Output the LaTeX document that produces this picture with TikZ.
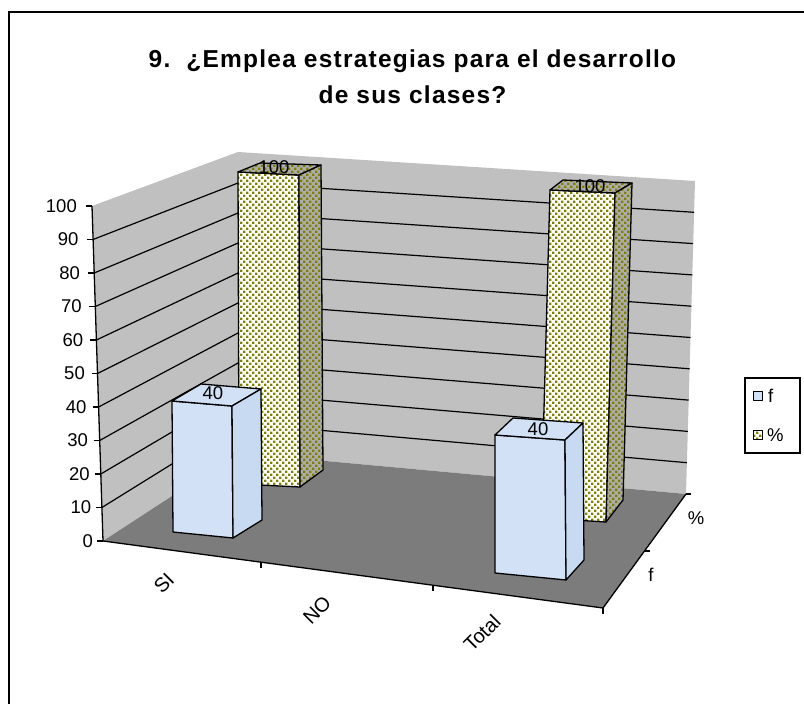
\documentclass[tikz,border=0pt]{standalone}
\usepackage{fontspec}
\setmainfont{Liberation Sans}
\newfontfamily\titlefont{Liberation Sans}[LetterSpace=5]
\usetikzlibrary{patterns}
\definecolor{wallgray}{RGB}{192,192,192}
\definecolor{floorgray}{RGB}{124,124,124}
\definecolor{fblue}{RGB}{210,225,246}
\definecolor{fside}{RGB}{200,218,242}
\definecolor{olivedot}{RGB}{128,128,0}
\definecolor{sidegray}{RGB}{172,172,172}
\pgfdeclarepatternformonly{olivedots}{\pgfpoint{-1pt}{-1pt}}{\pgfpoint{7pt}{7pt}}{\pgfpoint{6pt}{6pt}}{%
  \pgfpathrectangle{\pgfpoint{0pt}{0pt}}{\pgfpoint{2.3pt}{2.3pt}}%
  \pgfpathrectangle{\pgfpoint{3pt}{3pt}}{\pgfpoint{2.3pt}{2.3pt}}%
  \pgfusepath{fill}}
\tikzset{
  grid/.style={draw=black, line width=1.2pt},
  axisline/.style={draw=black, line width=1.3pt},
  lab/.style={font=\fontsize{18.5}{20}\selectfont, inner sep=0pt},
  catlab/.style={font=\fontsize{20}{22}\selectfont, inner sep=0pt},
  titlestyle/.style={font=\titlefont\bfseries\fontsize{24.5}{26}\selectfont, anchor=base, inner sep=0pt},
  pctfront/.style={preaction={fill=white}, pattern=olivedots, pattern color=olivedot, draw=black, line width=1.3pt, line join=round},
  pctside/.style={preaction={fill=sidegray}, pattern=olivedots, pattern color=olivedot, draw=black, line width=1.3pt, line join=round},
  ffront/.style={fill=fblue, draw=black, line width=1.3pt, line join=round},
  fsideface/.style={fill=fside, draw=black, line width=1.3pt, line join=round},
}
\begin{document}
\begin{tikzpicture}[x=1pt,y=-1pt]
\useasboundingbox (0,0) rectangle (804,704);
\fill[white] (0,0) rectangle (804,704);
% frame
\draw[line width=2pt] (9,706) -- (9,12) -- (806,12);
% title
\node[titlestyle] (t1) at (412.5,67) {9.\ \ ¿Emplea estrategias para el desarrollo};
\node[titlestyle] (t2) at (412.5,103) {de sus clases?};
% walls and floor
\fill[wallgray] (92,206) -- (238,152) -- (238,453) -- (103,541) -- cycle;
\fill[wallgray] (238,152) -- (695,181) -- (686,494) -- (238,453) -- cycle;
\fill[floorgray] (103,541) -- (238,453) -- (686,494) -- (603,608) -- cycle;
% gridlines
\foreach \v in {10,20,...,90}{
  \draw[grid] ({103-0.11*\v},{541-3.35*\v}) -- (238,{453-3*\v}) -- ({686+0.09*\v},{494-3.13*\v});
}
% y axis
\draw[axisline] (92,206) -- (103,541);
\foreach \v in {0,10,...,100}{
  \draw[axisline] ({97-0.11*\v},{541-3.35*\v}) -- ({103-0.11*\v},{541-3.35*\v});
  \node[lab, anchor=east] (y\v) at ({93-0.16*\v},{541-3.35*\v}) {\v};
}
% x axis and depth axis
\draw[axisline] (103,541) -- (603,608) -- (686,494);
\draw[axisline] (261,562.2) -- (261,568);
\draw[axisline] (433,585.2) -- (433,591);
\draw[axisline] (603,608) -- (603,614);
\draw[axisline] (644.5,551) -- (650,551);
\draw[axisline] (686,494) -- (691,494);
\node[catlab, rotate=45] (cSI) at (164,583) {SI};
\node[catlab, rotate=45] (cNO) at (317,610) {NO};
\node[catlab, rotate=45] (cTot) at (482,633) {Total};
\node[lab] (dpct) at (696,518) {\%};
\node[lab] (df) at (651,575) {f};
% % bars (back row)
\path[pctfront] (238,172) -- (299,175) -- (300,487) -- (239,484) -- cycle;
\path[pctside] (238,172) -- (260,163) -- (321,165) -- (299,175) -- cycle;
\path[pctside] (299,175) -- (321,165) -- (323,470) -- (300,487) -- cycle;
\node[lab] (v1) at (274,167) {100};
\path[pctfront] (550,190) -- (615,193) -- (606,522) -- (541,518) -- cycle;
\path[pctside] (550,190) -- (563,180) -- (632,183) -- (615,193) -- cycle;
\path[pctside] (615,193) -- (632,183) -- (623,500) -- (606,522) -- cycle;
\node[lab] (v2) at (590,186) {100};
% f bars (front row)
\path[ffront] (172,401) -- (232,406) -- (233,538) -- (173,532) -- cycle;
\path[ffront] (172,401) -- (201,384) -- (261,389) -- (232,406) -- cycle;
\path[fsideface] (232,406) -- (261,389) -- (262,520) -- (233,538) -- cycle;
\node[lab] (v3) at (213,393) {40};
\path[ffront] (495,435) -- (565,440) -- (566,580) -- (495,573) -- cycle;
\path[ffront] (495,435) -- (513,418) -- (583,423) -- (565,440) -- cycle;
\path[fsideface] (565,440) -- (583,423) -- (584,560) -- (566,580) -- cycle;
\node[lab] (v4) at (538,429) {40};
% legend
\draw[line width=1.3pt, fill=white] (745,378) rectangle (800,453);
\path[ffront, line width=1pt] (753,391) rectangle (762,400);
\node[lab, anchor=west] (lf) at (768,396) {f};
\path[pctfront, line width=1pt] (753,430) rectangle (762,439);
\node[lab, anchor=west] (lp) at (767,435) {\%};
\end{tikzpicture}
\end{document}
